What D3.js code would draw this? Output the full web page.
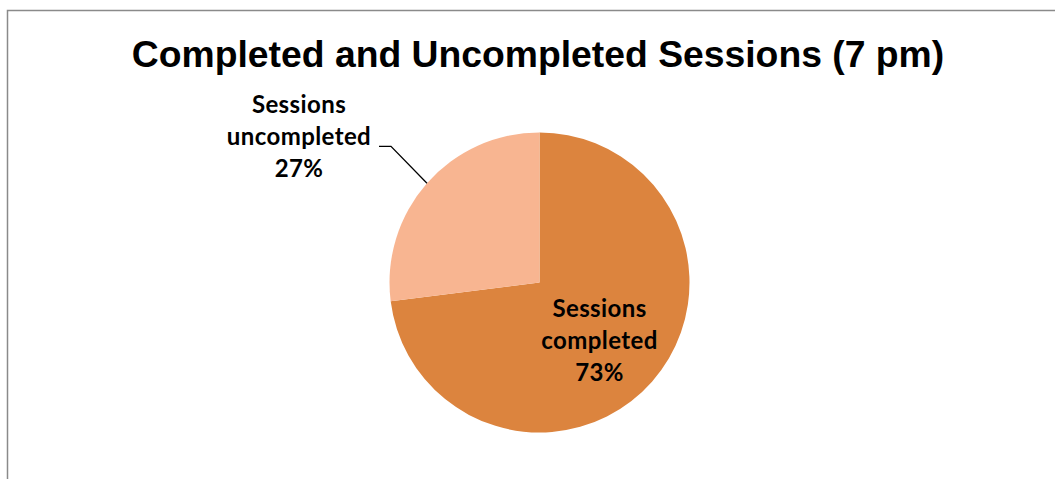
<!DOCTYPE html>
<html>
<head>
<meta charset="utf-8">
<script src="https://cdn.jsdelivr.net/npm/d3@7"></script>
<style>
  html, body { margin: 0; padding: 0; background: #fff; }
  svg { display: block; }
</style>
</head>
<body>
<svg id="chart" width="1055" height="479"></svg>
<script>
// Session outcomes at 7 pm
const categories = ["Sessions completed", "Sessions uncompleted"];
const values = [73, 27];
const labelLines = [["Sessions", "completed", "73%"], ["Sessions", "uncompleted", "27%"]];
const colors = ["#DC843E", "#F8B591"];
const title = "Completed and Uncompleted Sessions (7 pm)";

const svg = d3.select("#chart");

// chart frame (extends past the right and bottom edges)
svg.append("rect")
  .attr("x", 7.5).attr("y", 10.5)
  .attr("width", 1070).attr("height", 490)
  .attr("fill", "#fff")
  .attr("stroke", "#8a8a8a")
  .attr("stroke-width", 1.5);

svg.append("text")
  .attr("x", 538).attr("y", 67)
  .attr("text-anchor", "middle")
  .attr("font-family", "Liberation Sans, Arial, sans-serif")
  .attr("font-weight", "bold")
  .attr("font-size", 37.3)
  .attr("fill", "#000")
  .text(title);

const cx = 539.5, cy = 282.5, r = 150;
const g = svg.append("g").attr("transform", `translate(${cx},${cy})`);

const data = categories.map((c, i) => ({ name: c, value: values[i], lines: labelLines[i], color: colors[i] }));
const pie = d3.pie().sort(null).value(d => d.value);
const arcs = pie(data);
const arc = d3.arc().innerRadius(0).outerRadius(r);

g.selectAll("path.slice")
  .data(arcs)
  .join("path")
  .attr("class", "slice")
  .attr("d", arc)
  .attr("fill", d => d.data.color);

const labelFont = "Lato, 'Open Sans', sans-serif";
const lineH = 32;

function drawLabel(lines, x, yMid) {
  const t = g.append("text")
    .attr("text-anchor", "middle")
    .attr("font-family", labelFont)
    .attr("font-weight", "bold")
    .attr("font-size", 24)
    .attr("letter-spacing", 0.4)
    .attr("fill", "#000");
  lines.forEach((ln, i) => {
    t.append("tspan")
      .attr("x", x)
      .attr("y", yMid + (i - 1) * lineH)
      .text(ln);
  });
}

// inside label for the larger slice
{
  const a = arcs[0];
  const mid = (a.startAngle + a.endAngle) / 2;
  const rr = 88;
  const x = Math.sin(mid) * rr, y = -Math.cos(mid) * rr;
  drawLabel(a.data.lines, x - 6, y + 8);
}

// outside label with leader line for the smaller slice
{
  const a = arcs[1];
  const mid = (a.startAngle + a.endAngle) / 2;
  const p0 = [Math.sin(mid) * r, -Math.cos(mid) * r];
  const p1 = [p0[0] - 36, p0[1] - 37];
  const p2 = [p1[0] - 12, p1[1]];
  g.append("polyline")
    .attr("points", [p0, p1, p2].map(p => p.join(",")).join(" "))
    .attr("fill", "none")
    .attr("stroke", "#000")
    .attr("stroke-width", 1.3);
  drawLabel(a.data.lines, p2[0] - 80, p2[1] - 1);
}
</script>
</body>
</html>
